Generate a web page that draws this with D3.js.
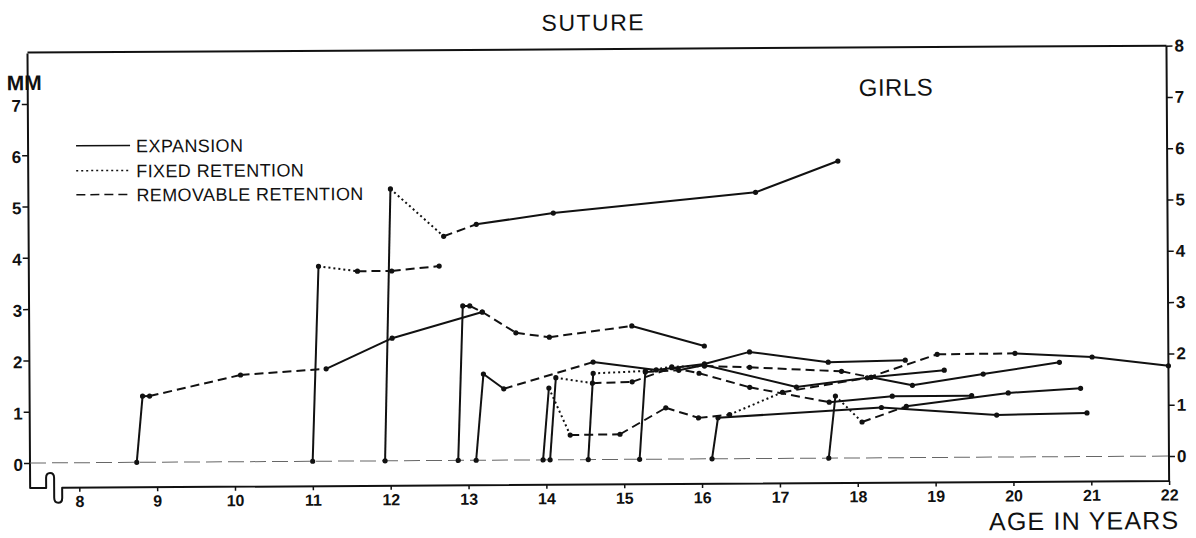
<!DOCTYPE html>
<html>
<head>
<meta charset="utf-8">
<script src="https://cdn.jsdelivr.net/npm/d3@7"></script>
<style>
  html, body { margin: 0; padding: 0; background: #fff; }
  svg { display: block; }
  text { font-family: "Liberation Sans", "DejaVu Sans", sans-serif; fill: #111; }
</style>
</head>
<body>
<svg id="chart" width="1196" height="538"></svg>
<script>
// ---------- data (age in years, suture opening in mm, phase of each segment) ----------
// phase: "E" = expansion, "F" = fixed retention, "R" = removable retention
const ageA = [8.74, 8.82, 8.91, 10.08, 11.18, 12.03, 13.19];
const mmA  = [0, 1.29, 1.29, 1.69, 1.80, 2.39, 2.89];
const phaseA = ["E", "E", "R", "R", "E", "E"];

const ageB = [12.87, 12.94, 13.03, 13.19, 13.62, 14.05, 15.11, 16.04];
const mmB  = [0, 3.01, 3.01, 2.89, 2.48, 2.39, 2.60, 2.20];
const phaseB = ["E", "E", "R", "R", "R", "R", "E"];

const ageC = [11.0, 11.09, 11.59, 12.03, 12.64];
const mmC  = [0, 3.80, 3.70, 3.70, 3.79];
const phaseC = ["E", "F", "R", "R"];

const ageD = [11.93, 12.02, 12.70, 13.12, 14.11, 16.71, 17.77];
const mmD  = [0, 5.30, 4.37, 4.60, 4.81, 5.19, 5.79];
const phaseD = ["E", "F", "R", "E", "E", "E"];

const ageE = [13.10, 13.20, 13.46, 14.61, 15.42, 16.04, 16.62, 17.63, 18.62];
const mmE  = [0, 1.68, 1.39, 1.90, 1.74, 1.85, 2.08, 1.87, 1.90];
const phaseE = ["E", "E", "R", "E", "E", "E", "E", "E"];

const ageF = [13.96, 14.04, 14.31, 14.95, 15.54, 15.96, 16.36, 17.04, 18.13, 19.03, 20.03, 21.02, 22.0];
const mmF  = [0, 1.40, 0.48, 0.49, 1.00, 0.80, 0.86, 1.29, 1.56, 2.01, 2.02, 1.94, 1.76];
const phaseF = ["E", "F", "R", "R", "R", "R", "F", "R", "R", "R", "E", "E"];

const ageG = [14.05, 14.13, 14.60, 15.11, 15.62, 15.97, 16.62, 17.64, 18.45, 19.47];
const mmG  = [0, 1.60, 1.49, 1.51, 1.78, 1.67, 1.39, 1.09, 1.20, 1.20];
const phaseG = ["E", "F", "R", "R", "R", "R", "R", "E", "E"];

const ageH = [14.54, 14.61, 15.28, 15.62, 16.04, 16.62, 17.80, 18.18, 19.12];
const mmH  = [0, 1.68, 1.72, 1.80, 1.81, 1.78, 1.69, 1.57, 1.70];
const phaseH = ["E", "F", "F", "F", "R", "R", "R", "E"];

const ageI = [15.20, 15.28, 15.71, 16.04, 17.22, 18.18, 18.71, 19.62, 20.60];
const mmI  = [0, 1.70, 1.73, 1.83, 1.39, 1.57, 1.41, 1.62, 1.84];
const phaseI = ["E", "R", "E", "E", "E", "E", "E", "E"];

const ageJ = [16.13, 16.21, 18.31, 19.79, 20.95];
const mmJ  = [0, 0.80, 0.98, 0.82, 0.85];
const phaseJ = ["E", "E", "E", "E"];

const ageK = [17.63, 17.72, 18.06, 18.63, 19.94, 20.87];
const mmK  = [0, 1.21, 0.70, 1.00, 1.25, 1.33];
const phaseK = ["E", "F", "R", "E", "E"];

const xTicks = [8, 9, 10, 11, 12, 13, 14, 15, 16, 17, 18, 19, 20, 21, 22];
const yTicksLeft = [0, 1, 2, 3, 4, 5, 6, 7];
const yTicksRight = [0, 1, 2, 3, 4, 5, 6, 7, 8];
const legendLabels = ["EXPANSION", "FIXED RETENTION", "REMOVABLE RETENTION"];
const legendPhases = ["E", "F", "R"];
const titleText = "SUTURE";
const groupText = "GIRLS";
const yUnitText = "MM";
const xTitleText = "AGE IN YEARS";

const subjects = [
  [ageA, mmA, phaseA], [ageB, mmB, phaseB], [ageC, mmC, phaseC], [ageD, mmD, phaseD],
  [ageE, mmE, phaseE], [ageF, mmF, phaseF], [ageG, mmG, phaseG], [ageH, mmH, phaseH],
  [ageI, mmI, phaseI], [ageJ, mmJ, phaseJ], [ageK, mmK, phaseK]
];

// ---------- drawing ----------
const svg = d3.select("#chart");
const leftX = 30, rightX = 1169, axisY = 488;
const x = d3.scaleLinear().domain([9, 22]).range([157, rightX]);
const y = d3.scaleLinear().domain([0, 8]).range([463, 52.6]);

const dash = { E: null, F: "2,3", R: "9,5" };

// whole printed figure is slightly tilted in the scan
const g = svg.append("g").attr("transform", "rotate(-0.35, 30, 463)");

// title texts
g.append("text").attr("x", 596).attr("y", 34).attr("text-anchor", "middle")
  .attr("font-size", 23).attr("letter-spacing", 1.5).text(titleText);
g.append("text").attr("x", 861).attr("y", 101)
  .attr("font-size", 24).attr("letter-spacing", 0.5).text(groupText);
g.append("text").attr("x", 9).attr("y", 90)
  .attr("font-size", 21).attr("font-weight", "bold").text(yUnitText);
g.append("text").attr("x", 1179).attr("y", 536).attr("text-anchor", "end")
  .attr("font-size", 25).attr("letter-spacing", 1.2).text(xTitleText);

// frame: top border, left & right axes, bottom axis with break
g.append("line").attr("x1", leftX).attr("x2", rightX).attr("y1", y(8)).attr("y2", y(8))
  .attr("stroke", "#111").attr("stroke-width", 2);
g.append("path")
  .attr("d", `M${leftX},${y(8) + 1} V${axisY} H46 V478 Q46,473 50,473 Q54,473 54,478 V498 Q54,503 58,503 Q62,503 62,498 V${axisY} H${rightX} V${y(8)}`)
  .attr("fill", "none").attr("stroke", "#111").attr("stroke-width", 2).attr("stroke-linejoin", "round");

// left axis
const yAxisL = d3.axisLeft(y).tickValues(yTicksLeft).tickSize(6).tickSizeOuter(0).tickFormat(d3.format("d"));
const gl = g.append("g").attr("transform", `translate(${leftX},0)`).call(yAxisL);
gl.select(".domain").remove();
gl.selectAll(".tick line").attr("stroke", "#111").attr("stroke-width", 1.5);
gl.selectAll(".tick text").attr("x", -7).attr("dy", "0.42em").attr("font-size", 17).attr("font-weight", "bold")
  .attr("font-family", "Liberation Sans, sans-serif").attr("fill", "#111");

// right axis
const yAxisR = d3.axisRight(y).tickValues(yTicksRight).tickSize(6).tickSizeOuter(0).tickFormat(d3.format("d"));
const gr = g.append("g").attr("transform", `translate(${rightX},0)`).call(yAxisR);
gr.select(".domain").remove();
gr.selectAll(".tick line").attr("stroke", "#111").attr("stroke-width", 1.5);
gr.selectAll(".tick text").attr("x", 8).attr("font-size", 17).attr("font-weight", "bold")
  .attr("font-family", "Liberation Sans, sans-serif").attr("fill", "#111");

// bottom axis
const xAxis = d3.axisBottom(x).tickValues(xTicks).tickSize(4).tickSizeOuter(0).tickFormat(d3.format("d"));
const gb = g.append("g").attr("transform", `translate(0,${axisY})`).call(xAxis);
gb.select(".domain").remove();
gb.selectAll(".tick line").attr("stroke", "#111").attr("stroke-width", 1.5);
gb.selectAll(".tick text").attr("y", 8).attr("font-size", 16).attr("font-weight", "bold")
  .attr("font-family", "Liberation Sans, sans-serif").attr("fill", "#111");

// zero baseline
g.append("line").attr("x1", leftX).attr("x2", rightX).attr("y1", y(0)).attr("y2", y(0))
  .attr("stroke", "#666").attr("stroke-width", 1).attr("stroke-dasharray", "16,6");

// legend
const legY = [146, 171, 195];
legendLabels.forEach((lab, i) => {
  g.append("line").attr("x1", 78).attr("x2", 132).attr("y1", legY[i]).attr("y2", legY[i])
    .attr("stroke", "#111").attr("stroke-width", 1.5)
    .attr("stroke-dasharray", dash[legendPhases[i]]);
  g.append("text").attr("x", 138).attr("y", legY[i] + 7).attr("font-size", 18)
    .attr("letter-spacing", 0.4).text(lab);
});

// data segments
const segs = [];
const pts = [];
subjects.forEach(([ages, mms, phases]) => {
  for (let i = 0; i < ages.length - 1; i++) {
    segs.push({ a0: ages[i], v0: mms[i], a1: ages[i + 1], v1: mms[i + 1], p: phases[i] });
  }
  ages.forEach((a, i) => pts.push({ a, v: mms[i] }));
});

g.append("g").selectAll("line").data(segs).join("line")
  .attr("x1", d => x(d.a0)).attr("y1", d => y(d.v0))
  .attr("x2", d => x(d.a1)).attr("y2", d => y(d.v1))
  .attr("stroke", "#111").attr("stroke-width", 2)
  .attr("stroke-dasharray", d => dash[d.p]);

g.append("g").selectAll("circle").data(pts).join("circle")
  .attr("cx", d => x(d.a)).attr("cy", d => y(d.v)).attr("r", 2.6).attr("fill", "#111");
</script>
</body>
</html>
